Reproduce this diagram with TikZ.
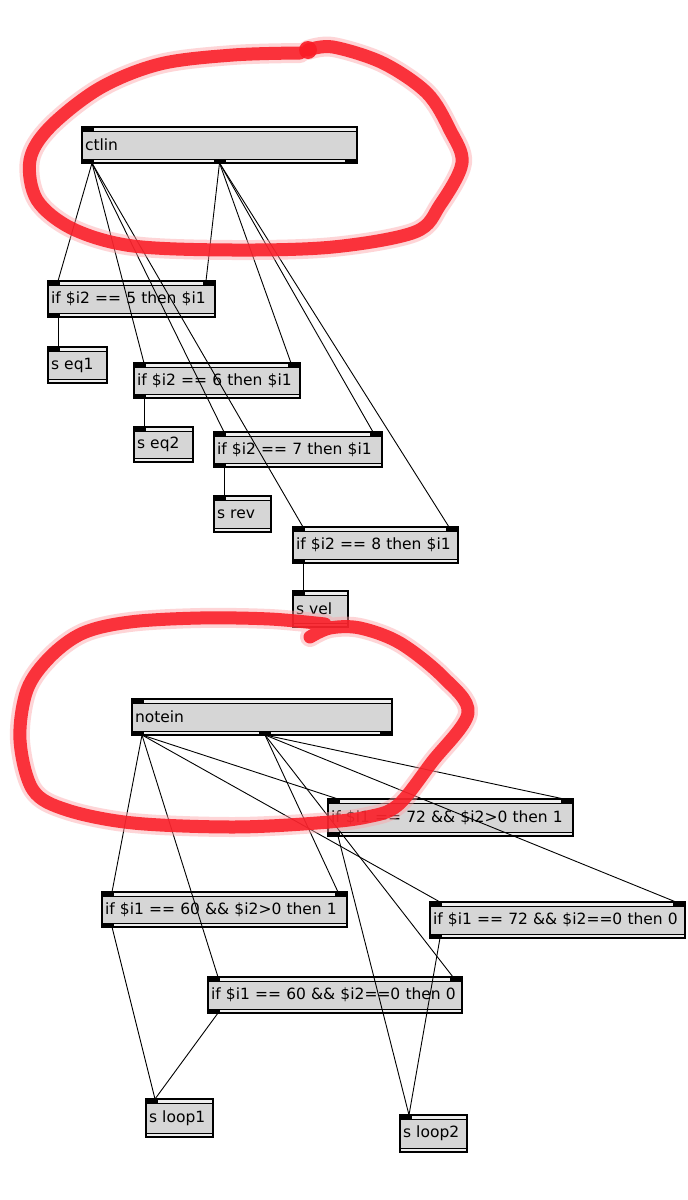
\documentclass[tikz,border=0pt]{standalone}
\usepackage{fontspec}
\newfontfamily\objfont{DejaVu Sans}
\usetikzlibrary{calc}
\definecolor{boxgray}{RGB}{214,214,214}
\definecolor{boxlight}{RGB}{238,238,238}
\definecolor{marker}{RGB}{250,28,38}
\newcommand\markTL[1]{\fill (#1.north west) rectangle ++(12,4);}
\newcommand\markTR[1]{\fill (#1.north east) rectangle ++(-12,4);}
\newcommand\markBL[1]{\fill (#1.south west) rectangle ++(12,-4);}
\newcommand\markBR[1]{\fill (#1.south east) rectangle ++(-12,-4);}
\newcommand\markBM[1]{\fill ([xshift=-6pt]#1.south) rectangle ++(12,-4);}
\begin{document}
\begin{tikzpicture}[x=1pt,y=-1pt,
  obj/.style={draw=black, line width=1.1pt, fill=boxgray, anchor=north west,
    outer sep=0pt, inner xsep=3pt, inner ysep=0pt, align=left,
    font=\objfont\fontsize{15.5pt}{18pt}\selectfont,
    path picture={
      \fill[boxlight] (path picture bounding box.north west) rectangle ([yshift=-4pt]path picture bounding box.north east);
      \fill[boxlight] (path picture bounding box.south west) rectangle ([yshift=4pt]path picture bounding box.south east);
      \draw[line width=1pt] ([yshift=-4pt]path picture bounding box.north west) -- ([yshift=-4pt]path picture bounding box.north east);
      \draw[line width=1pt] ([yshift=4pt]path picture bounding box.south west) -- ([yshift=4pt]path picture bounding box.south east);
    }},
  wire/.style={draw=black, line width=0.9pt},
  redhalo/.style={draw=marker!40, line width=20pt, line cap=round, line join=round, opacity=0.45},
  redloop/.style={draw=marker, line width=13pt, line cap=round, line join=round, opacity=0.88}]
\useasboundingbox (0,0) rectangle (688,1200);
\fill[white] (0,0) rectangle (688,1200);

% ---- ctlin section ----
\node[obj, minimum width=275, minimum height=36, text width=269] (ctlin) at (82,127) {ctlin};
\node[obj, minimum width=167, minimum height=36, text width=161] (c5) at (48,281) {if \$i2 == 5 then \$i1};
\node[obj, minimum width=59, minimum height=36, text width=53] (eq1) at (48,347) {s eq1};
\node[obj, minimum width=166, minimum height=35, text width=160] (c6) at (134,363) {if \$i2 == 6 then \$i1};
\node[obj, minimum width=59, minimum height=35, text width=53] (eq2) at (134,427) {s eq2};
\node[obj, minimum width=168, minimum height=35, text width=162] (c7) at (214,432) {if \$i2 == 7 then \$i1};
\node[obj, minimum width=57, minimum height=36, text width=51] (rev) at (214,496) {s rev};
\node[obj, minimum width=165, minimum height=36, text width=159] (c8) at (293,527) {if \$i2 == 8 then \$i1};
\node[obj, minimum width=55, minimum height=36, text width=49] (vel) at (293,591) {s vel};

% ---- notein section ----
\node[obj, minimum width=260, minimum height=36, text width=254] (notein) at (132,699) {notein};
\node[obj, minimum width=245, minimum height=37, text width=239] (a72) at (328,799) {if \$i1 == 72 \&\& \$i2>0 then 1};
\node[obj, minimum width=255, minimum height=36, text width=249] (b72) at (430,902) {if \$i1 == 72 \&\& \$i2==0 then 0};
\node[obj, minimum width=245, minimum height=35, text width=239] (a60) at (102,892) {if \$i1 == 60 \&\& \$i2>0 then 1};
\node[obj, minimum width=254, minimum height=36, text width=248] (b60) at (208,977) {if \$i1 == 60 \&\& \$i2==0 then 0};
\node[obj, minimum width=67, minimum height=38, text width=61] (loop1) at (146,1099) {s loop1};
\node[obj, minimum width=67, minimum height=37, text width=61] (loop2) at (400,1115) {s loop2};

% ---- port marks ----
\markTL{ctlin}\markBL{ctlin}\markBM{ctlin}\markBR{ctlin}
\markTL{notein}\markBL{notein}\fill ([xshift=-3pt]notein.south) rectangle ++(12,-4);\markBR{notein}
\foreach \n in {c5,c6,c7,c8,a72,b72,a60,b60}{\markTL{\n}\markTR{\n}\markBL{\n}}
\foreach \n in {eq1,eq2,rev,vel,loop1,loop2}{\markTL{\n}}

% ---- wires ----
\foreach \n in {c5,c6,c7,c8}{
  \draw[wire] ([xshift=10pt]ctlin.south west) -- ([xshift=10pt]\n.north west);
  \draw[wire] (ctlin.south) -- ([xshift=-9pt]\n.north east);
}
\draw[wire] ([xshift=10pt]c5.south west) -- ([xshift=10pt]eq1.north west);
\draw[wire] ([xshift=10pt]c6.south west) -- ([xshift=10pt]eq2.north west);
\draw[wire] ([xshift=10pt]c7.south west) -- ([xshift=10pt]rev.north west);
\draw[wire] ([xshift=10pt]c8.south west) -- ([xshift=10pt]vel.north west);

\foreach \n in {a72,b72,a60,b60}{
  \draw[wire] ([xshift=10pt]notein.south west) -- ([xshift=10pt]\n.north west);
  \draw[wire] ([xshift=3pt]notein.south) -- ([xshift=-9pt]\n.north east);
}
\draw[wire] ([xshift=10pt]a60.south west) -- ([xshift=9pt]loop1.north west);
\draw[wire] ([xshift=10pt]b60.south west) -- ([xshift=9pt]loop1.north west);
\draw[wire] ([xshift=10pt]a72.south west) -- ([xshift=9pt]loop2.north west);
\draw[wire] ([xshift=10pt]b72.south west) -- ([xshift=9pt]loop2.north west);

% ---- red hand-drawn loops ----
\foreach \s in {redhalo,redloop}{
  \draw[\s] plot[smooth, tension=0.55] coordinates {
    (308,50) (333,47) (383,63) (427,93) (450,130) (462,163) (440,205) (415,232)
    (333,247) (233,250) (133,246) (73,229) (37,200) (30,160) (50,127) (100,88)
    (160,64) (233,55) (300,53)};
  \draw[\s] plot[smooth, tension=0.55] coordinates {
    (310,637) (330,628) (360,628) (400,643) (443,677) (468,713) (432,762) (398,805)
    (367,817) (317,823) (233,827) (133,823) (67,810) (33,790) (20,740)
    (27,690) (50,657) (83,633) (130,622) (200,618) (270,619) (325,624)};
}
\fill[marker, opacity=0.9] (308,50) circle (9);
\end{tikzpicture}
\end{document}
